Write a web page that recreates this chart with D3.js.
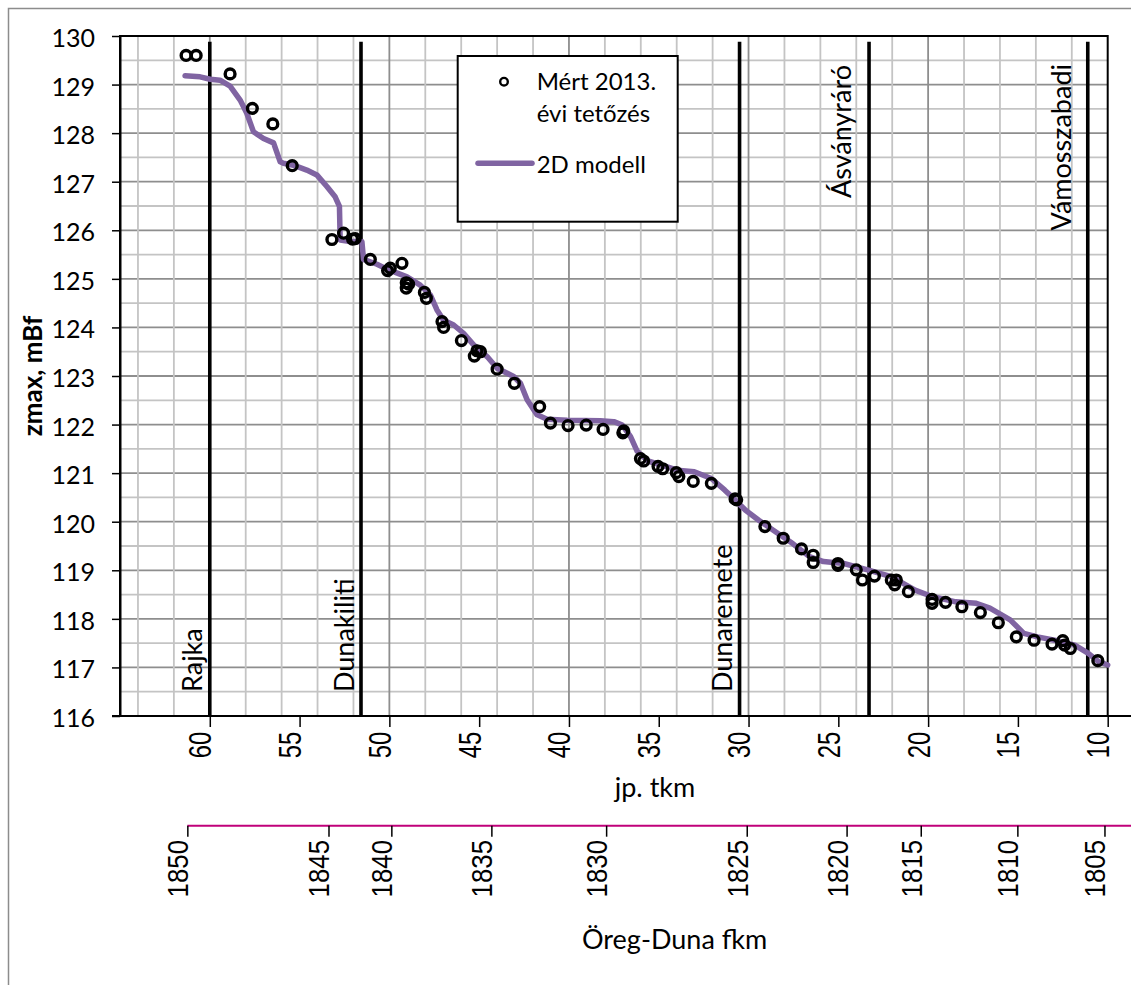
<!DOCTYPE html>
<html>
<head>
<meta charset="utf-8">
<script src="https://cdn.jsdelivr.net/npm/d3@7"></script>
<style>
  html, body { margin: 0; padding: 0; background: #fff; }
  svg { display: block; }
</style>
</head>
<body>
<svg id="chart" width="1131" height="985"></svg>
<script>
// ---- data ----
const zTicks = [116,117,118,119,120,121,122,123,124,125,126,127,128,129,130];
const tkmTicks = [60,55,50,45,40,35,30,25,20,15,10];

// Öreg-Duna fkm labels and the jp. tkm position where each falls
const fkmTicks = [1850,1845,1840,1835,1830,1825,1820,1815,1810,1805];
const fkmAtTkm = [61.25,53.39,49.89,44.32,37.93,30.10,24.54,20.41,15.03,10.18];

const stationNames = ["Rajka","Dunakiliti","Dunaremete","Ásványráró","Vámosszabadi"];
const stationTkm   = [60.0, 51.58, 30.5, 23.29, 11.11];

// 2D modell – computed peak water level
const modelTkm = [61.38,60.54,59.98,59.43,58.87,58.31,57.94,57.57,57.01,56.45,56.08,55.9,55.34,54.6,54.04,
  53.48,53.02,52.78,52.74,52.18,51.53,51.44,50.69,50.13,49.02,48.28,47.72,47.35,46.98,46.42,45.87,45.31,
  44.56,44.0,43.08,42.70,42.33,41.77,41.22,40.1,38.25,37.5,37.03,36.57,36.2,35.6,34.53,33.97,33.02,32.07,
  31.32,30.75,30.18,29.43,28.48,27.54,26.61,25.83,24.70,23.37,22.05,20.73,19.78,18.46,17.32,16.56,15.43,
  14.67,13.91,12.96,11.83,11.08,10.51,10.0];
const modelZ = [129.18,129.16,129.11,129.09,128.97,128.68,128.41,128.03,127.89,127.80,127.41,127.38,127.34,127.24,127.14,
  126.90,126.69,126.49,125.80,125.77,125.77,125.40,125.30,125.20,125.04,124.87,124.67,124.36,124.15,124.05,123.88,123.64,
  123.40,123.16,122.99,122.85,122.51,122.20,122.11,122.09,122.08,122.06,121.99,121.75,121.45,121.25,121.13,121.06,121.03,120.89,
  120.65,120.45,120.24,120.03,119.79,119.55,119.28,119.18,119.14,119.01,118.87,118.59,118.46,118.35,118.32,118.22,117.98,
  117.70,117.63,117.56,117.46,117.29,117.12,117.05];

// Mért 2013. évi tetőzés – measured peaks
const measTkm = [61.32,60.76,58.87,57.63,56.49,55.41,53.2,52.55,52.05,51.9,51.06,50.1,49.95,49.3,49.06,49.06,48.93,
  48.05,47.94,47.07,46.98,45.99,45.27,45.12,44.93,44.0,43.04,41.63,41.03,40.05,39.04,38.1,37.0,36.95,36.02,35.84,
  35.04,34.78,34.02,33.88,33.08,32.07,30.75,30.66,29.09,28.07,27.05,26.4,26.4,25.02,25.02,24.0,23.66,22.99,22.05,
  21.86,21.77,21.1,19.78,19.78,19.03,18.12,17.09,16.09,15.09,14.1,13.1,12.5,12.4,12.08,10.55];
const measZ = [129.60,129.60,129.22,128.51,128.19,127.33,125.81,125.94,125.82,125.83,125.40,125.17,125.22,125.32,124.92,124.81,124.89,
  124.72,124.60,124.12,124.00,123.73,123.41,123.52,123.50,123.14,122.85,122.37,122.03,121.98,121.99,121.90,121.83,121.87,121.30,121.25,
  121.14,121.09,121.01,120.93,120.83,120.79,120.47,120.45,119.90,119.66,119.44,119.31,119.16,119.14,119.10,119.01,118.80,118.88,118.80,
  118.70,118.80,118.56,118.40,118.32,118.34,118.25,118.13,117.92,117.63,117.56,117.48,117.55,117.46,117.39,117.14];

// ---- layout ----
const svg = d3.select("#chart");
const plot = { left: 120, right: 1107.7, top: 36, bottom: 716 };
const calibri = "Lato, 'Open Sans', sans-serif";
const arial = "'Liberation Sans', Arial, sans-serif";

const x = d3.scaleLinear().domain([65, 10]).range([plot.left, plot.right]);
const y = d3.scaleLinear().domain([116, 130]).range([plot.bottom, plot.top]);
const xf = d3.scaleLinear().domain(fkmTicks).range(fkmAtTkm.map(d => x(d)));

// outer chart frame
svg.append("rect").attr("x", 8.5).attr("y", 8.5).attr("width", 1200).attr("height", 1100)
  .attr("fill", "none").attr("stroke", "#8c8c8c").attr("stroke-width", 1.5);

// gridlines
const grid = svg.append("g");
d3.range(116.5, 130, 1).forEach(v => {
  grid.append("line").attr("x1", plot.left).attr("x2", plot.right).attr("y1", y(v)).attr("y2", y(v))
    .attr("stroke", "#c4c4c4").attr("stroke-width", 1.8);
});
d3.range(117, 130, 1).forEach(v => {
  grid.append("line").attr("x1", plot.left).attr("x2", plot.right).attr("y1", y(v)).attr("y2", y(v))
    .attr("stroke", "#8e8e8e").attr("stroke-width", 1.8);
});
d3.range(64, 10, -2).forEach(k => {
  grid.append("line").attr("x1", x(k)).attr("x2", x(k)).attr("y1", plot.top).attr("y2", plot.bottom)
    .attr("stroke", k % 10 === 0 ? "#8e8e8e" : "#c4c4c4").attr("stroke-width", 1.8);
});

// plot frame
svg.append("rect").attr("x", plot.left).attr("y", plot.top)
  .attr("width", plot.right - plot.left).attr("height", plot.bottom - plot.top)
  .attr("fill", "none").attr("stroke", "#000").attr("stroke-width", 2);

// station lines
stationTkm.forEach(k => {
  svg.append("line").attr("x1", x(k)).attr("x2", x(k)).attr("y1", 41.7).attr("y2", plot.bottom)
    .attr("stroke", "#000").attr("stroke-width", 3.6);
});

// station labels (rotated); first three anchored at bottom, last two at top
const stationStyle = [
  { dx: -8, anchor: "start", y: 692 },
  { dx: -7, anchor: "start", y: 692 },
  { dx: -8, anchor: "start", y: 692 },
  { dx: -18, anchor: "end", y: 65 },
  { dx: -17, anchor: "end", y: 64 }
];
stationNames.forEach((name, i) => {
  const s = stationStyle[i];
  svg.append("text")
    .attr("transform", `translate(${x(stationTkm[i]) + s.dx},${s.y}) rotate(-90)`)
    .attr("text-anchor", s.anchor)
    .attr("font-family", calibri).attr("font-size", 27).attr("fill", "#000")
    .text(name);
});

// model line
const line = d3.line().x(d => x(d[0])).y(d => y(d[1]));
svg.append("path")
  .datum(modelTkm.map((k, i) => [k, modelZ[i]]))
  .attr("d", line)
  .attr("fill", "none").attr("stroke", "#8064A2").attr("stroke-width", 5.5)
  .attr("stroke-linejoin", "round").attr("stroke-linecap", "round");

// measured points
svg.append("g").selectAll("circle")
  .data(measTkm.map((k, i) => [k, measZ[i]]))
  .join("circle")
  .attr("cx", d => x(d[0])).attr("cy", d => y(d[1])).attr("r", 4.9)
  .attr("fill", "none").attr("stroke", "#000").attr("stroke-width", 3.4);

// y axis
const yAxis = svg.append("g").attr("transform", `translate(${plot.left},0)`)
  .call(d3.axisLeft(y).tickValues(zTicks).tickSize(8).tickSizeOuter(0).tickPadding(17).tickFormat(d3.format("d")));
yAxis.select(".domain").attr("stroke", "#000").attr("stroke-width", 2);
yAxis.selectAll(".tick line").attr("stroke", "#000").attr("stroke-width", 1.5);
yAxis.selectAll(".tick text").attr("font-family", calibri).attr("font-size", 25).attr("fill", "#000").attr("dy", "0.42em");

// bottom axis (jp. tkm)
const xAxis = svg.append("g").attr("transform", `translate(0,${plot.bottom})`)
  .call(d3.axisBottom(x).tickValues(tkmTicks).tickSize(11).tickSizeOuter(0).tickFormat(d3.format("d")));
xAxis.select(".domain").remove();
xAxis.selectAll(".tick line").attr("stroke", "#000").attr("stroke-width", 1.5);
xAxis.selectAll(".tick text")
  .attr("x", null).attr("y", null).attr("dy", null)
  .attr("text-anchor", "end")
  .attr("transform", "translate(1,15.7) rotate(-90) scale(0.77,1)")
  .attr("font-family", arial).attr("font-size", 31).attr("fill", "#000");
svg.append("line").attr("x1", 112).attr("x2", 1131).attr("y1", plot.bottom).attr("y2", plot.bottom)
  .attr("stroke", "#000").attr("stroke-width", 2);

// secondary bottom axis (Öreg-Duna fkm)
const fAxisY = 825.7;
svg.append("line").attr("x1", xf(fkmTicks[0])).attr("x2", 1131).attr("y1", fAxisY).attr("y2", fAxisY)
  .attr("stroke", "#c0007a").attr("stroke-width", 2);
const fAxis = svg.append("g").attr("transform", `translate(0,${fAxisY})`)
  .call(d3.axisBottom(xf).tickValues(fkmTicks).tickSize(11).tickSizeOuter(0).tickFormat(d3.format("d")));
fAxis.select(".domain").remove();
fAxis.selectAll(".tick line").attr("stroke", "#000").attr("stroke-width", 1.5);
fAxis.selectAll(".tick text")
  .attr("x", null).attr("y", null).attr("dy", null)
  .attr("text-anchor", "end")
  .attr("transform", "translate(0.5,14.3) rotate(-90) scale(0.89,1)")
  .attr("font-family", arial).attr("font-size", 29).attr("fill", "#000");

// axis titles
svg.append("text").attr("x", 655).attr("y", 797).attr("text-anchor", "middle")
  .attr("font-family", calibri).attr("font-size", 27).attr("fill", "#000").text("jp. tkm");
svg.append("text").attr("x", 674.6).attr("y", 949).attr("text-anchor", "middle")
  .attr("font-family", calibri).attr("font-size", 27).attr("fill", "#000").text("Öreg-Duna fkm");
svg.append("text").attr("transform", "translate(42,376) rotate(-90)").attr("text-anchor", "middle")
  .attr("font-family", calibri).attr("font-size", 26).attr("font-weight", "bold").attr("fill", "#000")
  .text("zmax, mBf");

// legend
const lg = svg.append("g");
lg.append("rect").attr("x", 457.7).attr("y", 56).attr("width", 220).attr("height", 165.7)
  .attr("fill", "#fff").attr("stroke", "#000").attr("stroke-width", 2);
lg.append("circle").attr("cx", 504).attr("cy", 81.7).attr("r", 3.8)
  .attr("fill", "none").attr("stroke", "#000").attr("stroke-width", 2.4);
lg.append("text").attr("x", 536.7).attr("y", 90).attr("font-family", calibri).attr("font-size", 24).text("Mért 2013.");
lg.append("text").attr("x", 536.7).attr("y", 121.7).attr("font-family", calibri).attr("font-size", 24).text("évi tetőzés");
lg.append("line").attr("x1", 478).attr("x2", 532).attr("y1", 163.3).attr("y2", 163.3)
  .attr("stroke", "#8064A2").attr("stroke-width", 5.5).attr("stroke-linecap", "round");
lg.append("text").attr("x", 536.7).attr("y", 173.3).attr("font-family", calibri).attr("font-size", 24).text("2D modell");
</script>
</body>
</html>
